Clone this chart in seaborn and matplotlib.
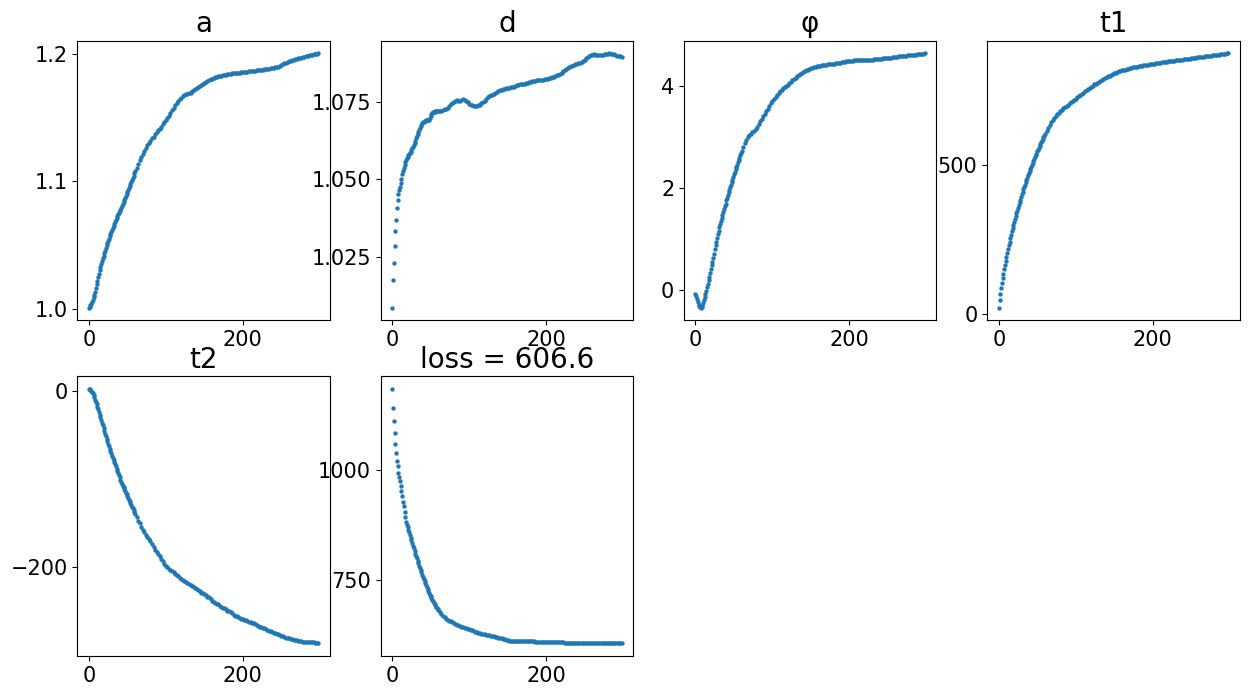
"""Parameter traces of a 300-step fit: one scatter panel per parameter plus the loss."""

import matplotlib
matplotlib.use("Agg")
import matplotlib.pyplot as plt
import seaborn as sns


# ── Data ────────────────────────────────────────────────────────────────────

# every step for the steep start, every second step afterwards
iteration = list(range(0, 60)) + list(range(60, 299, 2))

a_vals = [
    1.0008, 1.0015, 1.0028, 1.0040, 1.0055, 1.0070, 1.0090, 1.0110, 1.0135, 1.0165,
    1.0190, 1.0220, 1.0250, 1.0275, 1.0300, 1.0325, 1.0350, 1.0375, 1.0395, 1.0415,
    1.0435, 1.0455, 1.0476, 1.0497, 1.0518, 1.0535, 1.0551, 1.0568, 1.0584, 1.0600,
    1.0615, 1.0633, 1.0650, 1.0668, 1.0684, 1.0700, 1.0715, 1.0727, 1.0740, 1.0752,
    1.0765, 1.0777, 1.0790, 1.0806, 1.0822, 1.0838, 1.0854, 1.0870, 1.0886, 1.0902,
    1.0919, 1.0935, 1.0951, 1.0966, 1.0982, 1.0998, 1.1014, 1.1030, 1.1046, 1.1062,
    # from step 60 on, every 2nd step
    1.1078, 1.1106, 1.1135, 1.1165, 1.1190, 1.1215, 1.1238, 1.1261, 1.1282, 1.1302,
    1.1321, 1.1337, 1.1352, 1.1369, 1.1385, 1.1400, 1.1415, 1.1431, 1.1447, 1.1463,
    1.1479, 1.1495, 1.1515, 1.1536, 1.1557, 1.1578, 1.1597, 1.1615, 1.1631, 1.1645,
    1.1656, 1.1668, 1.1678, 1.1684, 1.1688, 1.1692, 1.1698, 1.1707, 1.1715, 1.1722,
    1.1731, 1.1741, 1.1750, 1.1759, 1.1767, 1.1775, 1.1783, 1.1790, 1.1796, 1.1801,
    1.1807, 1.1812, 1.1816, 1.1820, 1.1824, 1.1827, 1.1831, 1.1834, 1.1837, 1.1839,
    1.1842, 1.1844, 1.1846, 1.1848, 1.1849, 1.1851, 1.1852, 1.1854, 1.1855, 1.1856,
    1.1857, 1.1859, 1.1861, 1.1862, 1.1864, 1.1865, 1.1867, 1.1869, 1.1870, 1.1871,
    1.1873, 1.1874, 1.1875, 1.1877, 1.1879, 1.1881, 1.1883, 1.1884, 1.1887, 1.1889,
    1.1892, 1.1895, 1.1898, 1.1902, 1.1907, 1.1913, 1.1920, 1.1927, 1.1933, 1.1938,
    1.1943, 1.1948, 1.1952, 1.1956, 1.1960, 1.1963, 1.1966, 1.1970, 1.1973, 1.1976,
    1.1979, 1.1982, 1.1985, 1.1989, 1.1992, 1.1995, 1.1997, 1.2000, 1.2003, 1.2005,
]

d_vals = [
    1.0087, 1.0177, 1.0231, 1.0285, 1.0333, 1.0369, 1.0407, 1.0433, 1.0452, 1.0466,
    1.0477, 1.0489, 1.0503, 1.0516, 1.0527, 1.0537, 1.0546, 1.0555, 1.0562, 1.0568,
    1.0573, 1.0578, 1.0582, 1.0585, 1.0589, 1.0594, 1.0600, 1.0605, 1.0611, 1.0617,
    1.0623, 1.0632, 1.0640, 1.0648, 1.0654, 1.0660, 1.0665, 1.0671, 1.0676, 1.0681,
    1.0684, 1.0686, 1.0688, 1.0689, 1.0690, 1.0690, 1.0691, 1.0692, 1.0693, 1.0699,
    1.0705, 1.0710, 1.0714, 1.0716, 1.0718, 1.0718, 1.0719, 1.0719, 1.0719, 1.0720,
    1.0720, 1.0721, 1.0721, 1.0723, 1.0726, 1.0728, 1.0731, 1.0737, 1.0742, 1.0746,
    1.0751, 1.0754, 1.0755, 1.0753, 1.0753, 1.0757, 1.0758, 1.0757, 1.0754, 1.0749,
    1.0744, 1.0741, 1.0739, 1.0738, 1.0737, 1.0738, 1.0740, 1.0741, 1.0745, 1.0749,
    1.0754, 1.0760, 1.0765, 1.0769, 1.0771, 1.0773, 1.0775, 1.0778, 1.0781, 1.0784,
    1.0787, 1.0789, 1.0791, 1.0792, 1.0794, 1.0795, 1.0796, 1.0797, 1.0798, 1.0799,
    1.0801, 1.0803, 1.0805, 1.0807, 1.0808, 1.0809, 1.0809, 1.0810, 1.0811, 1.0813,
    1.0814, 1.0816, 1.0817, 1.0818, 1.0819, 1.0819, 1.0820, 1.0821, 1.0822, 1.0823,
    1.0824, 1.0825, 1.0826, 1.0827, 1.0829, 1.0831, 1.0833, 1.0835, 1.0838, 1.0841,
    1.0844, 1.0848, 1.0852, 1.0856, 1.0860, 1.0863, 1.0865, 1.0867, 1.0869, 1.0871,
    1.0872, 1.0874, 1.0876, 1.0878, 1.0882, 1.0886, 1.0890, 1.0894, 1.0898, 1.0901,
    1.0902, 1.0903, 1.0902, 1.0902, 1.0902, 1.0902, 1.0902, 1.0902, 1.0903, 1.0904,
    1.0905, 1.0906, 1.0905, 1.0904, 1.0903, 1.0901, 1.0899, 1.0898, 1.0897, 1.0895,
]

phi_vals = [
    -0.08, -0.12, -0.17, -0.23, -0.28, -0.31, -0.33, -0.34, -0.33, -0.30,
    -0.25, -0.19, -0.13, -0.07, -0.01, 0.06, 0.13, 0.20, 0.27, 0.34,
    0.41, 0.49, 0.56, 0.64, 0.72, 0.80, 0.88, 0.95, 1.03, 1.10,
    1.17, 1.24, 1.30, 1.36, 1.42, 1.48, 1.54, 1.59, 1.65, 1.70,
    1.76, 1.81, 1.87, 1.92, 1.97, 2.02, 2.07, 2.12, 2.17, 2.22,
    2.27, 2.32, 2.37, 2.41, 2.46, 2.51, 2.56, 2.60, 2.65, 2.69,
    2.73, 2.81, 2.88, 2.94, 3.00, 3.04, 3.07, 3.10, 3.13, 3.16,
    3.20, 3.25, 3.31, 3.36, 3.41, 3.46, 3.51, 3.56, 3.61, 3.66,
    3.71, 3.75, 3.79, 3.83, 3.87, 3.90, 3.93, 3.96, 3.99, 4.01,
    4.03, 4.06, 4.08, 4.11, 4.13, 4.16, 4.19, 4.22, 4.24, 4.26,
    4.28, 4.29, 4.31, 4.32, 4.34, 4.35, 4.36, 4.37, 4.38, 4.39,
    4.395, 4.40, 4.41, 4.412, 4.415, 4.42, 4.425, 4.43, 4.433, 4.437,
    4.44, 4.443, 4.45, 4.455, 4.46, 4.468, 4.475, 4.48, 4.487, 4.49,
    4.493, 4.497, 4.50, 4.503, 4.505, 4.505, 4.508, 4.51, 4.51, 4.513,
    4.515, 4.515, 4.518, 4.52, 4.52, 4.521, 4.523, 4.525, 4.528, 4.532,
    4.535, 4.538, 4.542, 4.545, 4.548, 4.552, 4.555, 4.56, 4.567, 4.57,
    4.573, 4.577, 4.58, 4.585, 4.588, 4.59, 4.593, 4.597, 4.60, 4.603,
    4.607, 4.61, 4.613, 4.617, 4.62, 4.625, 4.628, 4.632, 4.636, 4.64,
]

t1_vals = [
    22, 48, 68, 87, 104, 120, 136, 151, 165, 179,
    193, 206, 219, 231, 243, 255, 266, 277, 288, 298,
    308, 318, 328, 338, 347, 356, 366, 375, 384, 392,
    401, 409, 418, 426, 434, 442, 450, 457, 465, 472,
    479, 486, 493, 499, 506, 512, 519, 525, 532, 538,
    545, 551, 557, 563, 569, 575, 581, 587, 593, 598,
    604, 614, 624, 634, 643, 651, 658, 664, 670, 675,
    680, 684, 689, 694, 698, 702, 706, 710, 714, 718,
    722, 726, 730, 734, 738, 742, 746, 750, 754, 758,
    762, 765, 769, 772, 775, 779, 782, 785, 788, 791,
    794, 796, 799, 802, 804, 807, 809, 811, 813, 815,
    817, 818, 819, 821, 822, 823, 825, 826, 827, 828,
    829, 830, 831, 832, 833, 834, 835, 835, 836, 837,
    838, 839, 840, 840, 841, 842, 843, 843, 844, 845,
    846, 847, 847, 848, 849, 850, 850, 851, 852, 852,
    853, 854, 854, 855, 856, 857, 857, 858, 859, 860,
    860, 861, 862, 862, 863, 864, 865, 865, 866, 867,
    867, 868, 869, 869, 870, 871, 871, 872, 873, 873,
]

t2_vals = [
    2.5, 2.0, 1.2, 0.3, -0.8, -2.5, -4.5, -7.0, -9.5, -12,
    -14.5, -17.5, -20.5, -23.5, -26.5, -29.5, -32.5, -35.5, -38.5, -41.5,
    -44.8, -48, -51, -54, -57, -59.7, -62.3, -65, -67.7, -70.3,
    -73, -75.3, -77.7, -80, -82.7, -85.3, -88, -90.3, -92.7, -95,
    -97.7, -100.3, -103, -105, -107, -109, -111, -113, -115, -117,
    -119, -121, -123, -125, -127, -129, -131, -133, -135, -137,
    -139, -143, -147, -150, -153.5, -157, -160, -163, -165.5, -168,
    -170.5, -173.5, -177, -180, -182.5, -185, -187.5, -190.5, -193, -196,
    -198.5, -200, -201.5, -203, -204, -205.5, -207, -208, -210, -211.5,
    -213, -214.5, -215.5, -216, -217.5, -219, -220, -221.5, -222.5, -223,
    -224.5, -226, -227, -228.5, -229.5, -230, -231.5, -233, -234, -235.5,
    -237.5, -239, -240.5, -241.5, -242, -243.5, -245, -246, -246.5, -247.5,
    -249, -249.5, -251, -252, -253.5, -254.5, -255, -256.5, -257.5, -258,
    -258.5, -259.5, -260, -260.5, -261.5, -262, -262.5, -263.5, -264, -265.5,
    -266.5, -267, -267.5, -268.5, -269, -269.5, -271, -272, -272.5, -273.5,
    -274, -274.5, -275.5, -276, -276.5, -277.5, -278, -278.5, -279.5, -280,
    -280.5, -281, -281.5, -282, -282, -282.5, -283, -283, -283.5, -284,
    -284, -284, -284.5, -284.5, -285, -285, -285, -285.5, -285.5, -286,
]

loss_vals = [
    1186, 1143, 1114, 1086, 1061, 1040, 1021, 1010, 994, 985,
    976, 965, 953, 941, 929, 918, 905, 893, 882, 876,
    871, 865, 859, 852, 846, 840, 834, 828, 822, 816,
    810, 804, 799, 793, 788, 782, 777, 772, 767, 762,
    757, 753, 748, 743, 738, 733, 729, 724, 720, 716,
    713, 709, 705, 702, 698, 695, 692, 689, 686, 684,
    681, 676, 672, 668, 665, 661, 659, 657, 655, 653,
    651, 649, 647, 646, 644, 643, 642, 640, 639, 638,
    637, 636, 635, 633, 632, 631, 629, 628, 627.5, 627,
    626, 625, 624, 623, 622.5, 622, 621, 620.5, 619.5, 618,
    617.5, 617, 616, 615, 613.5, 612, 611.5, 611, 610.5, 610.5,
    610.5, 610.5, 610.5, 610.4, 610.3, 610.1, 610, 610, 609.9, 609.7,
    609.5, 609.5, 609.3, 609.2, 609.1, 609, 609, 608.9, 608.8, 608.7,
    608.6, 608.5, 608.3, 608.1, 608, 607.8, 607.7, 607.6, 607.5, 607.4,
    607.2, 607, 606.9, 606.7, 606.6, 606.5, 606.5, 606.4, 606.3, 606.3,
    606.2, 606.1, 606.1, 606, 605.9, 605.9, 605.8, 605.7, 605.7, 605.6,
    605.6, 605.6, 605.5, 605.5, 605.5, 605.4, 605.4, 605.4, 605.4, 605.3,
    605.3, 605.3, 605.3, 605.2, 605.2, 605.2, 605.2, 605.2, 605.2, 605.2,
]

titles = ["a", "d", "φ", "t1", "t2", "loss = 606.6"]
x_ticks = [0, 200]
y_ticks = [
    [1.0, 1.1, 1.2],
    [1.025, 1.050, 1.075],
    [0, 2, 4],
    [0, 500],
    [-200, 0],
    [750, 1000],
]


# ── Plotting ────────────────────────────────────────────────────────────────

def plot_trace(ax, values, title, yticks):
    sns.scatterplot(x=iteration, y=values, ax=ax, s=10, linewidth=0,
                    color="#1f77b4", legend=False)
    ax.set_title(title, fontsize=20)
    ax.set_xticks(x_ticks)
    ax.set_yticks(yticks)
    ax.tick_params(labelsize=15)
    ax.set_xlabel("")
    ax.set_ylabel("")


def main():
    series = [a_vals, d_vals, phi_vals, t1_vals, t2_vals, loss_vals]
    for name, vals in zip(titles, series):
        if len(vals) != len(iteration):
            print(f"  length mismatch for {name}: {len(vals)} vs {len(iteration)}")

    fig, axes = plt.subplots(2, 4, figsize=(12.49, 6.96), dpi=100)
    fig.subplots_adjust(left=0.062, right=0.9925, bottom=0.0575, top=0.9415,
                        wspace=0.202, hspace=0.2)

    for ax, vals, title, yt in zip(axes.flat, series, titles, y_ticks):
        plot_trace(ax, vals, title, yt)

    # only six traces, the last two slots stay empty
    for ax in axes.flat[len(series):]:
        ax.axis("off")

    fig.savefig("out.png", dpi=100)
    plt.close(fig)


if __name__ == "__main__":
    main()
